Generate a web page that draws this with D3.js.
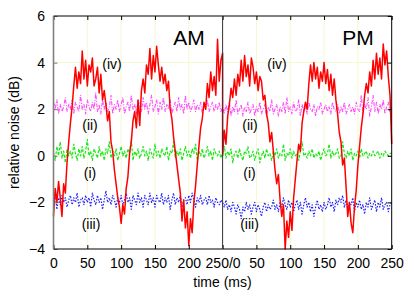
<!DOCTYPE html>
<html>
<head>
<meta charset="utf-8">
<script src="https://cdn.jsdelivr.net/npm/d3@7"></script>
<style>
body { margin: 0; background: #fff; }
text { font-family: "Liberation Sans", Arial, sans-serif; }
</style>
</head>
<body>
<div class="container"></div>
<script>
const width = 415;
const height = 291;
const step = 2.5; // ms between samples

const xTickValues = [0, 50, 100, 150, 200, 250, 300, 350, 400, 450, 500];
const xTickLabels = ["0", "50", "100", "150", "200", "250/0", "50", "100", "150", "200", "250"];
const yTickValues = [-4, -2, 0, 2, 4, 6];

// AM half, 0..250 ms
const amIV = [
  -2.6, -1.4, -2.0, -1.1, -1.8, -2.6, -1.2, -1.6, -0.3, 0.6,
  1.4, 2.1, 3.0, 3.8, 2.9, 3.6, 3.1, 4.5, 3.3, 4.1,
  3.0, 3.9, 3.6, 4.2, 3.0, 3.3, 3.8, 2.7, 3.5, 2.4,
  2.8, 2.2, 1.5, 1.9, 0.6, 0.2, -0.6, -1.2, -1.8, -2.2,
  -2.9, -2.1, -2.5, -1.4, -0.9, 0.1, 0.6, 1.5, 1.9, 1.2,
  2.4, 1.3, 2.8, 3.3, 2.7, 3.9, 3.5, 4.6, 3.3, 4.3,
  3.6, 4.7, 3.9, 3.2, 3.8, 3.1, 3.5, 2.8, 3.2, 2.0,
  1.6, 0.8, 0.2, -0.4, -1.0, -1.6, -2.8, -1.9, -3.1, -2.4,
  -3.85, -2.7, -3.3, -2.0, -1.3, -0.4, 0.4, 1.2, 1.6, 2.3,
  2.0, 3.1, 2.5, 3.6, 2.8, 3.4, 2.6, 5.0, 3.2, 4.1,
  4.4];
const amII = [
  2.3, 2.0, 2.4, 1.8, 2.2, 1.9, 2.1, 2.5, 1.9, 2.2,
  2.0, 2.4, 1.8, 2.3, 2.1, 1.9, 2.6, 2.0, 2.2, 1.8,
  2.4, 2.1, 1.9, 2.3, 2.0, 2.7, 1.9, 2.2, 1.8, 2.4,
  2.0, 2.3, 1.9, 2.1, 2.6, 1.8, 2.2, 2.0, 2.4, 1.9,
  2.2, 2.5, 1.8, 2.1, 2.3, 1.9, 2.6, 2.0, 2.2, 1.8,
  2.4, 2.1, 1.9, 2.5, 2.0, 2.3, 1.8, 2.2, 2.6, 1.9,
  2.1, 2.4, 1.8, 2.3, 2.0, 2.5, 1.9, 2.2, 2.0, 2.4,
  1.8, 2.1, 2.3, 1.9, 2.5, 2.0, 2.2, 1.8, 2.6, 2.0,
  2.3, 1.9, 2.1, 2.4, 1.9, 2.2, 2.0, 2.3, 1.8, 2.2,
  2.0, 2.4, 1.9, 2.1, 2.3, 1.9, 2.2, 2.0, 2.3, 1.9,
  2.1];
const amI = [
  0.1, -0.2, 0.4, 0.0, 0.6, -0.1, 0.2, -0.3, 0.3, 0.0,
  0.2, -0.1, 0.5, 0.1, -0.2, 0.3, 0.0, 0.4, -0.1, 0.2,
  0.7, 0.0, 0.2, -0.2, 0.3, 0.1, -0.1, 0.4, 0.0, 0.2,
  -0.2, 0.3, 0.1, 0.6, -0.1, 0.2, 0.0, 0.3, -0.2, 0.1,
  0.4, 0.0, 0.2, -0.1, 0.3, 0.1, 0.7, -0.2, 0.2, 0.0,
  0.3, -0.1, 0.1, 0.4, 0.0, 0.2, -0.2, 0.3, 0.1, -0.1,
  0.5, 0.0, 0.2, -0.1, 0.3, 0.1, 0.0, 0.4, -0.2, 0.2,
  0.1, 0.6, -0.1, 0.2, 0.0, 0.3, -0.2, 0.1, 0.4, 0.0,
  0.2, -0.1, 0.3, 0.1, 0.5, -0.2, 0.2, 0.0, 0.3, -0.1,
  0.1, 0.4, 0.0, 0.2, -0.2, 0.3, 0.1, 0.0, 0.2, -0.1,
  0.1];
const amIII = [
  -1.9, -1.6, -2.3, -1.8, -2.1, -1.7, -2.0, -1.8, -2.2, -1.9,
  -1.7, -2.1, -1.8, -2.0, -1.6, -2.2, -1.9, -1.8, -2.1, -1.7,
  -2.0, -1.8, -2.2, -1.6, -1.9, -2.1, -1.7, -2.0, -1.8, -2.3,
  -1.9, -1.5, -2.0, -1.8, -2.1, -1.7, -1.9, -2.2, -1.8, -2.0,
  -1.7, -2.1, -1.9, -1.6, -2.0, -1.8, -2.3, -1.7, -1.9, -2.1,
  -1.6, -2.0, -1.8, -2.2, -1.7, -1.9, -2.1, -1.6, -2.0, -1.8,
  -2.2, -1.7, -1.9, -2.0, -1.6, -2.1, -1.8, -2.0, -1.7, -2.3,
  -1.9, -1.6, -2.1, -1.8, -2.0, -1.7, -2.2, -1.9, -1.8, -2.1,
  -1.7, -2.0, -1.6, -1.9, -2.2, -1.8, -2.0, -1.7, -2.1, -1.9,
  -1.8, -2.1, -1.7, -2.0, -1.9, -2.2, -1.8, -2.0, -2.1, -1.9,
  -2.0];

// PM half, 0..250 ms
const pmIV = [
  0.0, 1.1, 0.5, 1.7, 2.2, 2.9, 2.5, 3.3, 2.6, 3.5,
  3.0, 4.1, 3.2, 4.3, 3.4, 3.9, 3.0, 4.2, 3.8, 3.1,
  3.6, 2.8, 3.4, 3.2, 2.4, 2.6, 1.8, 1.4, 0.6, 1.0,
  0.2, -0.6, -1.2, -0.8, -1.9, -2.6, -2.1, -4.0, -2.8, -3.5,
  -2.4, -3.2, -1.8, -1.0, -0.2, 0.5, 0.2, 1.4, 1.9, 2.3,
  2.0, 3.1, 3.9, 3.2, 4.0, 3.3, 3.8, 2.9, 3.6, 3.2,
  4.0, 3.1, 3.7, 2.8, 3.5, 2.6, 3.3, 2.4, 1.8, 1.0,
  0.6, -0.4, -0.1, -1.3, -2.6, -2.0, -2.9, -3.3, -2.2, -1.5,
  -0.4, 0.4, 1.2, 1.8, 2.6, 3.1, 2.7, 3.6, 3.0, 4.1,
  3.3, 4.4, 3.5, 4.2, 3.3, 4.8, 3.9, 4.5, 3.4, 2.6,
  0.5];
const pmII = [
  2.1, 1.8, 2.2, 1.9, 2.3, 1.7, 2.1, 1.9, 2.4, 1.8,
  2.0, 2.2, 1.7, 2.1, 1.9, 2.3, 1.8, 2.0, 2.2, 1.7,
  2.1, 1.9, 2.3, 1.8, 2.0, 2.2, 1.7, 2.1, 1.9, 2.4,
  1.8, 2.0, 2.2, 1.7, 2.1, 1.9, 2.3, 1.8, 2.5, 1.9,
  2.1, 1.8, 2.3, 1.9, 2.0, 2.4, 1.7, 2.2, 1.9, 2.1,
  1.8, 2.3, 2.0, 1.9, 2.2, 1.7, 2.1, 2.0, 2.3, 1.8,
  2.0, 2.2, 1.9, 2.1, 1.8, 2.3, 2.0, 1.9, 2.2, 1.8,
  2.1, 1.9, 2.3, 1.8, 2.0, 2.2, 1.9, 2.1, 1.8, 2.3,
  2.0, 1.9, 2.6, 1.8, 2.2, 2.0, 2.5, 1.7, 2.1, 2.6,
  1.9, 2.3, 1.8, 2.2, 2.0, 2.4, 1.8, 2.1, 2.3, 1.9,
  2.1];
const pmI = [
  0.1, 0.4, -0.1, 0.2, 0.0, 0.3, -0.3, 0.1, 0.2, -0.1,
  0.3, 0.0, -0.2, 0.2, 0.1, 0.4, -0.1, 0.0, 0.2, -0.2,
  0.1, 0.3, -0.3, 0.0, 0.2, -0.1, 0.3, 0.0, 0.1, -0.2,
  0.2, 0.0, 0.3, -0.1, 0.1, 0.0, 0.5, -0.2, 0.1, 0.0,
  0.3, -0.1, 0.2, 0.0, 0.1, -0.2, 0.2, 0.6, 0.0, 0.1,
  -0.1, 0.2, 0.0, 0.3, -0.1, 0.1, 0.0, 0.2, -0.2, 0.1,
  0.3, 0.0, 0.1, 0.5, -0.1, 0.2, 0.0, 0.1, 0.3, -0.1,
  0.0, 0.6, 0.1, -0.1, 0.2, 0.0, 0.3, -0.2, 0.1, 0.0,
  0.2, -0.1, 0.3, 0.0, 0.1, 0.2, -0.1, 0.1, 0.0, 0.2,
  0.0, 0.1, 0.2, -0.1, 0.1, 0.0, 0.2, 0.1, 0.0, 0.1,
  0.1];
const pmIII = [
  -2.0, -2.2, -1.9, -2.3, -2.1, -2.4, -2.0, -2.2, -2.5, -2.1,
  -2.3, -2.7, -2.2, -2.4, -2.0, -2.3, -2.1, -2.5, -2.2, -2.0,
  -2.4, -2.1, -2.3, -2.6, -2.2, -2.0, -2.4, -2.1, -2.3, -2.2,
  -1.9, -2.3, -2.1, -2.4, -2.0, -2.2, -1.8, -2.1, -2.3, -1.9,
  -2.2, -2.0, -2.4, -2.1, -1.9, -2.3, -2.0, -2.5, -2.1, -1.8,
  -2.2, -2.0, -2.4, -2.1, -2.6, -2.2, -1.9, -2.3, -2.1, -2.4,
  -2.0, -2.3, -2.1, -1.8, -2.2, -2.0, -2.4, -1.9, -2.1, -1.8,
  -2.0, -1.7, -2.2, -1.9, -2.3, -2.0, -2.1, -1.8, -2.4, -2.0,
  -2.2, -1.9, -2.3, -2.1, -2.5, -2.0, -2.2, -1.8, -2.3, -2.1,
  -1.9, -2.4, -2.0, -2.2, -1.8, -2.3, -2.1, -2.0, -2.4, -2.1,
  -2.0];

const series = [
  {am: amII, pm: pmII, color: "#ff4cff", width: 1.1, dash: "4,1.5,1,1.5"},
  {am: amI, pm: pmI, color: "#1ee61e", width: 1.2, dash: "3,1.5"},
  {am: amIII, pm: pmIII, color: "#2020ff", width: 1.2, dash: "1.5,1.5"},
  {am: amIV, pm: pmIV, color: "#ff0000", width: 1.5, dash: null}
];

const labels = [
  {t: "(iv)", x: 112, y: 65}, {t: "(ii)", x: 90, y: 126}, {t: "(i)", x: 90, y: 174}, {t: "(iii)", x: 91, y: 225},
  {t: "(iv)", x: 277, y: 65}, {t: "(ii)", x: 250, y: 126}, {t: "(i)", x: 249.5, y: 174}, {t: "(iii)", x: 249.5, y: 225}
];

const plotLeft = 53.5, plotRight = 391.7, plotTop = 16, plotBottom = 249;

const svg = d3.select(".container").append("svg").attr("width", width).attr("height", height);

const x = d3.scaleLinear().domain([0, 500]).range([plotLeft, plotRight]);
const y = d3.scaleLinear().domain([-4, 6]).range([plotBottom, plotTop]);

// faint grid
svg.append("g").selectAll("line")
    .data(xTickValues.filter(d => d % 250 !== 0))
    .enter().append("line")
      .attr("x1", d => x(d)).attr("x2", d => x(d))
      .attr("y1", plotTop).attr("y2", plotBottom)
      .attr("stroke", "#f7f7d2").attr("stroke-width", 1);
svg.append("g").selectAll("line")
    .data(yTickValues.filter(d => d > -4 && d < 6))
    .enter().append("line")
      .attr("x1", plotLeft).attr("x2", plotRight)
      .attr("y1", d => y(d)).attr("y2", d => y(d))
      .attr("stroke", "#f7f7d2").attr("stroke-width", 1);

// curves
const line = d3.line().x(d => x(d[0])).y(d => y(d[1]));
svg.append("g").selectAll("path")
    .data(series)
    .enter().append("path")
      .attr("d", s => line(s.am.map((v, i) => [i * step, v]).concat(s.pm.map((v, i) => [250 + i * step, v]))))
      .attr("fill", "none")
      .attr("stroke", s => s.color)
      .attr("stroke-width", s => s.width)
      .attr("stroke-dasharray", s => s.dash)
      .attr("stroke-linejoin", "round");

// axes
svg.append("g").attr("transform", `translate(0,${plotBottom})`)
    .call(d3.axisBottom(x).tickValues(xTickValues).tickFormat((d, i) => xTickLabels[i])
      .tickSizeInner(-4).tickSizeOuter(0).tickPadding(9));
const yAxis = svg.append("g").attr("transform", `translate(${plotLeft},0)`)
    .call(d3.axisLeft(y).tickValues(yTickValues).tickSizeInner(-4).tickSizeOuter(0).tickPadding(8.5));
svg.append("g").attr("transform", `translate(${plotRight},0)`)
    .call(d3.axisRight(y).tickValues(yTickValues).tickFormat("").tickSizeInner(-4).tickSizeOuter(0));
svg.append("g").attr("transform", `translate(0,${plotTop})`)
    .call(d3.axisTop(x).tickValues(xTickValues).tickFormat("").tickSizeInner(-4).tickSizeOuter(0));

svg.selectAll(".domain").remove();
svg.selectAll(".tick text").attr("font-size", 14).attr("fill", "#000")
    .style("font-family", "'Liberation Sans', Arial, sans-serif");
svg.selectAll(".tick line").attr("stroke", "#000");
yAxis.selectAll(".tick line").attr("stroke", "#777");

// frame
svg.append("path")
    .attr("d", `M${plotLeft},${plotTop}H${plotRight}V${plotBottom}H${plotLeft}`)
    .attr("fill", "none").attr("stroke", "#000").attr("stroke-width", 1);
svg.append("line")
    .attr("x1", plotLeft).attr("x2", plotLeft).attr("y1", plotTop).attr("y2", plotBottom)
    .attr("stroke", "#808080").attr("stroke-width", 1.6);
svg.append("line")
    .attr("x1", x(250)).attr("x2", x(250)).attr("y1", plotTop).attr("y2", plotBottom)
    .attr("stroke", "#333").attr("stroke-width", 1);

// curve labels
svg.append("g").selectAll("text")
    .data(labels)
    .enter().append("text")
      .attr("x", d => d.x).attr("y", d => d.y)
      .attr("text-anchor", "middle").attr("dominant-baseline", "middle")
      .attr("font-size", 14)
      .text(d => d.t);

svg.append("text").attr("x", 189).attr("y", 45).attr("text-anchor", "middle")
    .attr("font-size", 21).text("AM");
svg.append("text").attr("x", 358).attr("y", 45).attr("text-anchor", "middle")
    .attr("font-size", 21).text("PM");

svg.append("text").attr("x", 222.5).attr("y", 287).attr("text-anchor", "middle")
    .attr("font-size", 14).text("time (ms)");
svg.append("text")
    .attr("transform", `translate(19,${(plotTop + plotBottom) / 2}) rotate(-90)`)
    .attr("text-anchor", "middle")
    .attr("font-size", 14).text("relative noise (dB)");
</script>
</body>
</html>
